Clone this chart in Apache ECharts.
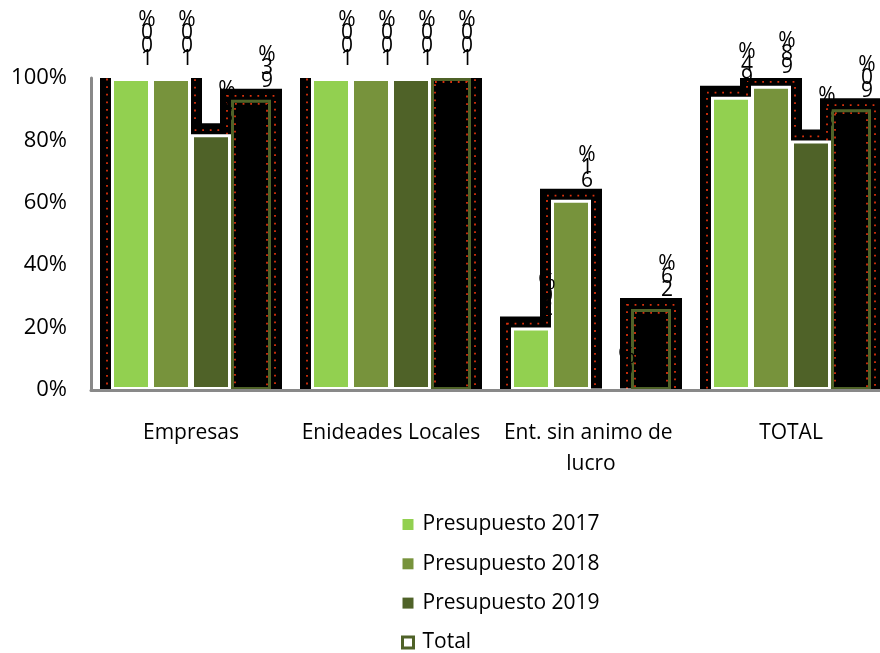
<!DOCTYPE html>
<html>
<head>
<meta charset="utf-8">
<script src="https://cdn.jsdelivr.net/npm/echarts@6/dist/echarts.min.js"></script>
<style>html,body{margin:0;padding:0;background:#fff;}#chart{width:880px;height:653px;}</style>
</head>
<body>
<div id="chart"></div>
<script>
const categories = ['Empresas', 'Enideades Locales', 'Ent. sin animo de lucro', 'TOTAL'];
const seriesNames = ['Presupuesto 2017', 'Presupuesto 2018', 'Presupuesto 2019', 'Total'];
const p2017 = [1.00, 1.00, 0.20, 0.94];
const p2018 = [1.00, 1.00, 0.61, 0.975];
const p2019 = [0.82, 1.00, 0.00, 0.80];
const pTotal = [0.93, 1.00, 0.26, 0.90];
const yTicks = [0, 0.2, 0.4, 0.6, 0.8, 1.0];

const FONT = '"Open Sans", sans-serif';
const colors = ['#92d050', '#77933c', '#4f6228', '#4f6228'];
const allValues = [p2017, p2018, p2019, pTotal];

const backdropData = [];
allValues.forEach((arr, s) => arr.forEach((v, c) => backdropData.push([c, s, v])));

const chart = echarts.init(document.getElementById('chart'), null, {renderer: 'canvas'});

function labelFmt(p) {
  const s = Math.round(p.value * 100) + '%';
  return s.split('').reverse().join('\n');
}

const barLabel = {
  show: true, position: 'top', distance: 12, offset: [16, 0],
  fontFamily: FONT, fontSize: 21, lineHeight: 13, color: '#000',
  formatter: labelFmt
};

const barSeries = allValues.map((arr, s) => ({
  name: seriesNames[s],
  type: 'bar',
  data: arr,
  z: 2,
  barGap: '0%',
  barCategoryGap: '20%',
  itemStyle: s < 3
    ? {color: colors[s], borderColor: '#ffffff', borderWidth: 3}
    : {color: 'rgba(0,0,0,0)', borderColor: '#4f6228', borderWidth: 3},
  label: barLabel,
  emphasis: {disabled: true}
}));

const backdrop = {
  type: 'custom',
  z: 1,
  silent: true,
  data: backdropData,
  encode: {x: 0, y: 2},
  renderItem: function (params, api) {
    const cat = api.value(0), s = api.value(1), v = api.value(2);
    if (!v) return null;
    const topPt = api.coord([cat, v]);
    const basePt = api.coord([cat, 0]);
    const band = api.size([1, 0])[0];
    const groupW = band * 0.8;
    const bw = groupW / 4;
    const x0 = topPt[0] - groupW / 2 + s * bw;
    const cs = params.coordSys;
    const clipR = {x: cs.x, y: cs.y, width: cs.width, height: cs.height};
    const h = basePt[1] - topPt[1];
    const children = [];
    const pad = 11;
    const outer = echarts.graphic.clipRectByRect({x: x0 - pad, y: topPt[1] - pad, width: bw + 2 * pad, height: h + 2 * pad}, clipR);
    if (outer) children.push({type: 'rect', shape: outer, style: {fill: '#000'}});
    const dot = {stroke: '#d8300c', lineWidth: 1.8, lineDash: [1.8, 5.8], fill: null};
    const d1 = 4;
    children.push({type: 'rect', shape: {x: x0 - d1, y: topPt[1] - d1, width: bw + 2 * d1, height: h + 2 * d1}, style: dot});
    if (s === 3) {
      const d2 = 4;
      children.push({type: 'rect', shape: {x: x0 + d2, y: topPt[1] + d2, width: bw - 2 * d2, height: h}, style: dot});
    }
    return {type: 'group', children: children, clipPath: {type: 'rect', shape: {x: cs.x, y: cs.y - 1, width: cs.width, height: cs.height + 1}}};
  }
};

const option = {
  animation: false,
  backgroundColor: '#ffffff',
  grid: {left: 91, right: -11, top: 78, bottom: 263, containLabel: false, outerBoundsMode: 'none'},
  legend: {
    orient: 'vertical', left: 401, top: 514, padding: 0,
    itemWidth: 11, itemHeight: 11, itemGap: 18.3,
    textStyle: {fontFamily: FONT, fontSize: 21, lineHeight: 21, color: '#000', padding: [0, 0, 0, 4]},
    data: [
      {name: seriesNames[0], icon: 'rect', itemStyle: {color: colors[0], borderWidth: 0}},
      {name: seriesNames[1], icon: 'rect', itemStyle: {color: colors[1], borderWidth: 0}},
      {name: seriesNames[2], icon: 'rect', itemStyle: {color: colors[2], borderWidth: 0}},
      {name: seriesNames[3], icon: 'rect', itemStyle: {color: '#ffffff', borderColor: '#4f6228', borderWidth: 3}}
    ],
    selectedMode: false
  },
  xAxis: {
    type: 'category',
    data: categories,
    z: 5,
    axisLine: {show: true, lineStyle: {color: '#898989', width: 3}},
    axisTick: {show: false},
    splitLine: {show: false},
    axisLabel: {
      interval: 0, margin: 28, fontFamily: FONT, fontSize: 21, lineHeight: 31, color: '#000',
      width: 192, overflow: 'break'
    }
  },
  yAxis: {
    type: 'value',
    min: yTicks[0], max: yTicks[yTicks.length - 1], interval: 0.2,
    z: 5,
    axisLine: {show: true, lineStyle: {color: '#898989', width: 3}},
    axisTick: {show: false},
    splitLine: {show: false},
    axisLabel: {
      margin: 24, fontFamily: FONT, fontSize: 22, color: '#000', padding: [10, 0, 0, 0],
      formatter: v => Math.round(v * 100) + '%'
    }
  },
  series: [backdrop].concat(barSeries)
};
chart.setOption(option);
</script>
</body>
</html>
